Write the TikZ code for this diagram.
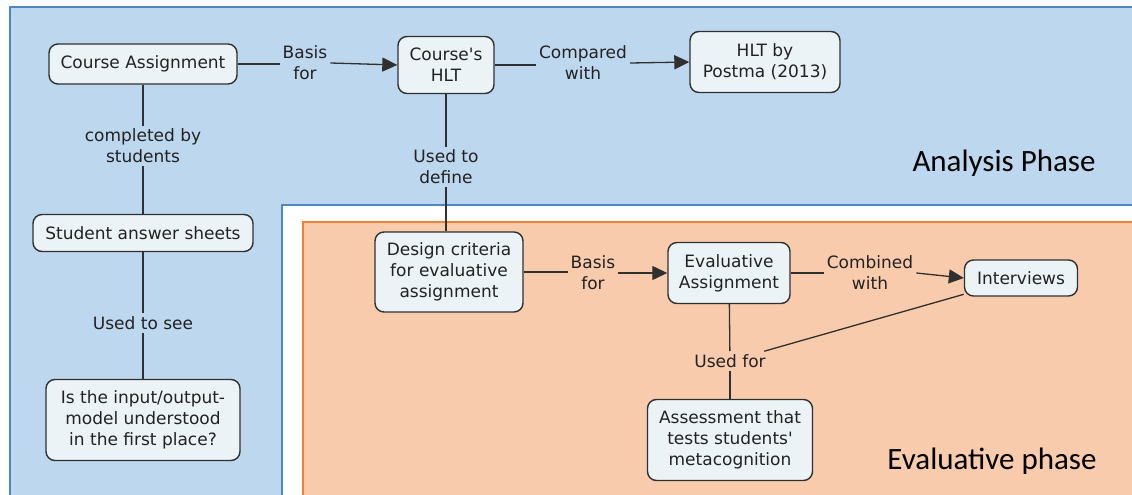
\documentclass[tikz,border=0pt]{standalone}
\usepackage{fontspec}
\setmainfont{DejaVu Sans}
\newfontfamily\phasefont{Carlito}
\usetikzlibrary{arrows.meta}
\definecolor{bluefill}{HTML}{BDD7EE}
\definecolor{blueline}{HTML}{4F86C6}
\definecolor{orfill}{HTML}{F8CBAD}
\definecolor{orline}{HTML}{F08233}
\definecolor{nodefill}{HTML}{EBF3F7}
\definecolor{nodeline}{HTML}{303030}
\definecolor{txt}{HTML}{222222}
\begin{document}
\begin{tikzpicture}[x=1pt,y=-1pt,
  concept/.style={draw=nodeline, fill=nodefill, rounded corners=9pt, line width=1.4pt,
    align=center, inner sep=2pt, font=\fontsize{17}{21}\selectfont, text=txt},
  lbl/.style={align=center, inner sep=3pt, font=\fontsize{17}{21}\selectfont, text=txt},
  link/.style={draw=nodeline, line width=1.3pt},
  arr/.style={link, -{Triangle[length=15pt,width=14pt]}},
  phase/.style={font=\phasefont\fontsize{31}{36}\selectfont, text=black, inner sep=0pt}]
\useasboundingbox (0,0) rectangle (1132,495);
\clip (0,0) rectangle (1132,495);
% background regions
\fill[white] (0,0) rectangle (1132,495);
\draw[fill=bluefill, draw=blueline, line width=2.2pt]
  (10,7) -- (1145,7) -- (1145,205) -- (282,205) -- (282,510) -- (10,510) -- cycle;
\draw[fill=orfill, draw=orline, line width=2pt]
  (303,222) rectangle (1145,510);
\node[phase] (ap) at (1004,163) {Analysis Phase};
\node[phase] (ep) at (992,461) {Evaluative phase};
% concepts
\node[concept, minimum width=188pt, minimum height=40pt] (ca) at (143,64) {Course Assignment};
\node[concept, minimum width=96pt, minimum height=57pt] (hlt) at (446,65) {Course\textquotesingle s\\HLT};
\node[concept, minimum width=150pt, minimum height=61pt] (pm) at (765,62) {HLT by\\Postma (2013)};
\node[concept, minimum width=220pt, minimum height=37pt] (sas) at (143,233) {Student answer sheets};
\node[concept, minimum width=194pt, minimum height=81pt] (io) at (143,420) {Is the input/output-\\model understood\\in the first place?};
\node[concept, minimum width=148pt, minimum height=80pt] (dc) at (449,272) {Design criteria\\for evaluative\\assignment};
\node[concept, minimum width=122pt, minimum height=61pt] (ea) at (729,273) {Evaluative\\Assignment};
\node[concept, minimum width=113pt, minimum height=36pt] (iv) at (1021,278) {Interviews};
\node[concept, minimum width=165pt, minimum height=81pt] (as) at (730,440) {Assessment that\\tests students\textquotesingle\\metacognition};
% link labels
\node[lbl] (l1) at (305,63) {Basis\\for};
\node[lbl] (l2) at (583,63) {Compared\\with};
\node[lbl] (l3) at (143,146) {completed by\\students};
\node[lbl] (l4) at (446,167) {Used to\\define};
\node[lbl] (l5) at (143,323) {Used to see};
\node[lbl] (l6) at (593,273) {Basis\\for};
\node[lbl] (l7) at (870,273) {Combined\\with};
\node[lbl] (l8) at (730,361) {Used for};
% connections
\draw[link] (ca.east) -- (l1.west |- ca.east);
\draw[arr] (l1.east) -- (hlt.west);
\draw[link] (hlt.east) -- (l2.west |- hlt.east);
\draw[arr] (l2.east) -- (pm.west);
\draw[link] (ca) -- (l3);
\draw[link] (l3) -- (sas);
\draw[link] (sas) -- (l5);
\draw[link] (l5) -- (io);
\draw[link] (hlt) -- (l4);
\draw[link] (l4.south) -- (l4.south |- dc.north);
\draw[link] (dc.east) -- (l6.west |- dc.east);
\draw[arr] (l6.east) -- (ea.west);
\draw[link] (ea.east) -- (l7.west |- ea.east);
\draw[arr] (l7.east) -- (iv.west);
\draw[link] (ea) -- (l8);
\draw[link] (l8) -- (as);
\draw[link] (iv) -- (l8);
\end{tikzpicture}
\end{document}
